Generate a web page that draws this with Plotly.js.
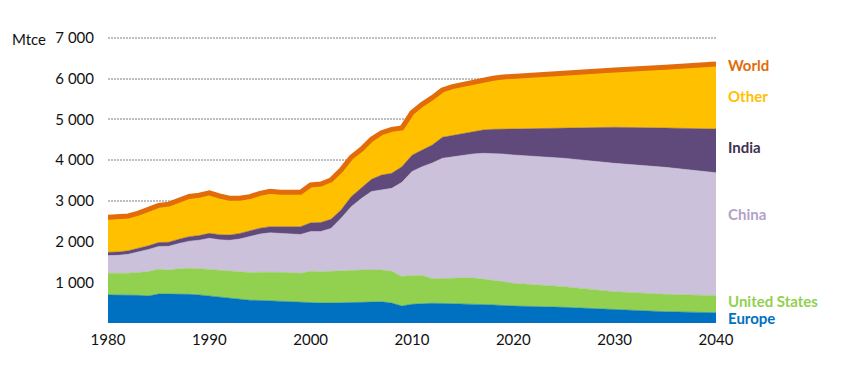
<!DOCTYPE html>
<html>
<head>
<meta charset="utf-8">
<script src="https://cdn.plot.ly/plotly-3.0.0.min.js"></script>
<style>
  html, body { margin: 0; padding: 0; background: #fff; }
  #chart { width: 862px; height: 378px; }
</style>
</head>
<body>
<div id="chart"></div>
<script>
// Years (annual history, then 5-year projection steps)
const years = [1980,1981,1982,1983,1984,1985,1986,1987,1988,1989,
               1990,1991,1992,1993,1994,1995,1996,1997,1998,1999,
               2000,2001,2002,2003,2004,2005,2006,2007,2008,2009,
               2010,2011,2012,2013,2014,2015,2016,2017,2018,2019,
               2020,2025,2030,2035,2040];

// Coal demand by region, Mtce
const europe = [690,690,690,680,665,712,710,710,705,690,
                663,640,607,570,560,555,545,535,515,499,
                490,490,490,495,495,495,515,520,490,418,
                460,475,484,480,475,470,460,455,445,430,
                418,385,336,278,253];
const unitedStates = [531,525,535,560,600,608,590,620,638,645,
                      656,660,670,690,680,690,705,710,720,722,
                      780,770,780,790,799,805,787,780,780,722,
                      710,695,606,610,625,640,645,625,605,580,
                      557,508,434,427,419];
const china = [436,448,465,502,543,560,585,625,667,700,
               764,745,755,805,880,940,966,961,955,955,
               976,990,1052,1286,1565,1759,1928,1971,2038,2315,
               2550,2670,2840,2956,2987,3010,3047,3089,3119,3142,
               3153,3153,3153,3120,3021];
const india = [80,82,85,88,92,95,100,105,110,115,
               120,125,130,135,140,145,150,160,170,190,
               215,220,225,205,245,250,300,365,370,385,
               400,410,443,516,524,540,549,573,589,610,
               638,754,885,965,1073];
const other = [860,865,855,870,900,915,935,960,990,990,
               997,950,903,865,845,855,869,844,845,845,
               930,945,967,983,967,959,983,1040,1080,951,
               1050,1123,1163,1163,1195,1204,1212,1228,1254,1282,
               1295,1350,1408,1492,1598];
const world = [2597,2610,2630,2700,2800,2890,2920,3020,3110,3140,
               3200,3120,3065,3065,3105,3185,3235,3210,3205,3211,
               3391,3415,3514,3759,4071,4268,4513,4676,4758,4791,
               5170,5373,5536,5725,5806,5864,5913,5970,6012,6044,
               6061,6150,6216,6282,6364];

const yTickVals = [1000,2000,3000,4000,5000,6000,7000];
const yTickText = ['1 000','2 000','3 000','4 000','5 000','6 000','7 000'];
const xTickVals = [1980,1990,2000,2010,2020,2030,2040];

const seriesNames = ['Europe','United States','China','India','Other'];
const seriesData = [europe, unitedStates, china, india, other];
const seriesColors = ['#0070C0','#92D050','#CCC1DA','#604A7B','#FFC000'];

const traces = seriesNames.map((name, i) => ({
  type: 'scatter',
  mode: 'lines',
  name: name,
  x: years,
  y: seriesData[i],
  stackgroup: 'one',
  fillcolor: seriesColors[i],
  line: { color: seriesColors[i], width: 0.5 },
  hoverinfo: 'x+y+name'
}));

traces.push({
  type: 'scatter',
  mode: 'lines',
  name: 'World',
  x: years,
  y: world,
  line: { color: '#E36C0A', width: 5 },
  hoverinfo: 'x+y+name'
});

const font = "Lato, 'Open Sans', sans-serif";

// plot area spans y 34..323 px (0..7100 Mtce)
const plotTop = 34, plotH = 289;
const labels = [
  { text: 'World', py: 65, color: '#E36C0A' },
  { text: 'Other', py: 95.7, color: '#FFC000' },
  { text: 'India', py: 146.7, color: '#403152' },
  { text: 'China', py: 214, color: '#B3A2C7' },
  { text: 'United States', py: 300.7, color: '#92D050' },
  { text: 'Europe', py: 318.3, color: '#0070C0' }
];

const annotations = labels.map(l => ({
  xref: 'paper', yref: 'paper',
  x: 1, y: 1 - (l.py - plotTop) / plotH,
  xanchor: 'left', yanchor: 'middle',
  xshift: 10,
  showarrow: false,
  text: '<b>' + l.text + '</b>',
  font: { family: font, size: 15, color: l.color }
}));

annotations.push({
  xref: 'paper', yref: 'paper',
  x: (10 - 108) / 608, y: 1 - (39 - plotTop) / plotH,
  xanchor: 'left', yanchor: 'middle',
  showarrow: false,
  text: 'Mtce',
  font: { family: font, size: 15, color: '#111111' }
});

const layout = {
  width: 862, height: 378,
  margin: { l: 108, r: 146, t: plotTop, b: 378 - plotTop - plotH, pad: 0 },
  paper_bgcolor: '#ffffff',
  plot_bgcolor: '#ffffff',
  showlegend: false,
  font: { family: font, size: 15, color: '#111111' },
  xaxis: {
    range: [1980, 2040],
    tickvals: xTickVals,
    ticktext: xTickVals.map(String),
    ticks: 'outside', ticklen: 3, tickcolor: 'rgba(0,0,0,0)',
    showgrid: false, zeroline: false, showline: false,
    tickfont: { family: font, size: 15, color: '#111111' },
    fixedrange: true
  },
  yaxis: {
    range: [0, 7100],
    tickvals: yTickVals,
    ticktext: yTickText,
    ticks: 'outside', ticklen: 10, tickcolor: 'rgba(0,0,0,0)',
    showgrid: true, gridcolor: '#BFBFBF', gridwidth: 2, griddash: '2px,1px',
    zeroline: false, showline: false,
    tickfont: { family: font, size: 15, color: '#111111' },
    fixedrange: true
  },
  annotations: annotations
};

Plotly.newPlot('chart', traces, layout, { displayModeBar: false, staticPlot: true });
</script>
</body>
</html>
